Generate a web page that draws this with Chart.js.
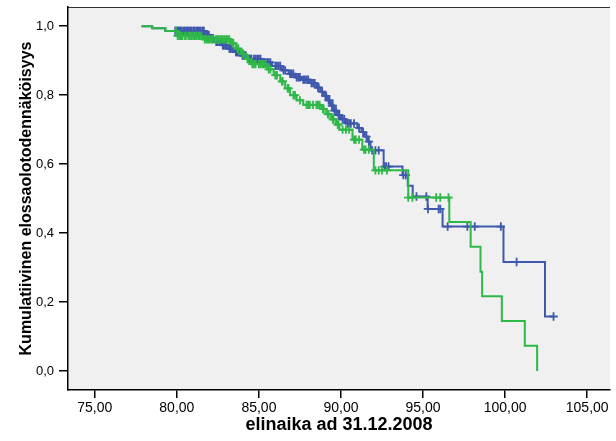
<!DOCTYPE html>
<html>
<head>
<meta charset="utf-8">
<script src="https://cdn.jsdelivr.net/npm/chart.js@4/dist/chart.umd.min.js"></script>
<style>
  html, body { margin: 0; padding: 0; background: #fff; }
  #wrap { width: 616px; height: 441px; }
</style>
</head>
<body>
<div id="wrap"><canvas id="kmChart" width="616" height="441"></canvas></div>
<script>
// survival steps (time where S drops, S after drop); last entry = end of follow-up
const blueT = [77.85, 78.5, 79.3, 81.7, 82.0, 82.3, 82.7, 83.1, 83.5, 83.9, 84.3, 85.2, 85.8, 86.4, 86.8, 87.2, 87.6,
    88.1, 88.5, 88.75, 88.95, 89.15, 89.35, 89.55, 89.75, 90.0, 90.3, 91.0, 91.25, 91.45, 91.65, 91.8, 92.6,
    93.75, 94.07, 94.37, 95.28, 96.19, 99.9, 102.43, 102.95];
const blueS = [1.0, 0.994, 0.986, 0.975, 0.965, 0.955, 0.945, 0.935, 0.925, 0.915, 0.905, 0.895, 0.885, 0.872, 0.862, 0.852, 0.845,
    0.835, 0.822, 0.81, 0.798, 0.785, 0.77, 0.755, 0.742, 0.73, 0.718, 0.705, 0.693, 0.68, 0.665, 0.64, 0.593,
    0.568, 0.537, 0.506, 0.47, 0.419, 0.316, 0.158, 0.158];

const greenT = [77.85, 78.5, 79.3, 80.0, 81.6, 83.3, 83.6, 83.9, 84.2, 84.5, 85.5, 85.9, 86.3, 86.6, 86.9, 87.3, 87.7,
    88.8, 89.1, 89.4, 89.7, 89.9, 90.7, 91.3, 92.0, 94.1, 96.6, 97.9, 98.5, 98.6, 99.8, 101.2, 101.95];
const greenS = [1.0, 0.994, 0.986, 0.972, 0.962, 0.95, 0.935, 0.92, 0.905, 0.89, 0.875, 0.858, 0.84, 0.82, 0.80, 0.785, 0.772,
    0.76, 0.745, 0.73, 0.715, 0.70, 0.671, 0.642, 0.582, 0.503, 0.432, 0.36, 0.288, 0.217, 0.145, 0.073, 0.0];

// censored cases (times)
const blueCensor = [79.9, 79.95, 80.0, 80.05, 80.1, 80.15, 80.2, 80.25, 80.3, 80.4, 80.45, 80.5, 80.6, 80.65, 80.7,
    80.8, 80.85, 80.9, 81.0, 81.05, 81.1, 81.2, 81.25, 81.3, 81.4, 81.45, 81.55, 81.6, 81.65,
    81.8, 81.85, 81.95, 82.1, 82.15, 82.2, 82.4, 82.45, 82.5, 82.6, 82.8, 82.85, 82.9, 83.0, 83.2, 83.25, 83.3, 83.4,
    83.6, 83.65, 83.7, 83.8, 84.0, 84.05, 84.1, 84.2, 84.4, 84.5, 84.55, 84.7, 84.8, 84.9, 85.0, 85.1,
    85.3, 85.4, 85.5, 85.6, 85.7, 86.0, 86.1, 86.2, 86.3, 86.5, 86.6, 86.9, 87.0, 87.1, 87.3, 87.4, 87.5,
    87.7, 87.8, 87.9, 88.0, 88.2, 88.3, 88.4, 88.6, 88.65,
    88.85, 89.05, 89.1, 89.25, 89.3, 89.45, 89.5, 89.6, 89.7, 89.85, 89.9, 90.1, 90.2, 90.4, 90.5, 90.6, 90.8, 91.1,
    91.35, 91.55, 91.7,
    91.9, 92.1, 92.3, 92.65, 92.75, 92.9, 93.8, 93.95, 94.6, 95.2, 95.3, 95.95, 96.05, 96.5, 97.7, 98.15,
    99.74, 100.7, 102.95];
const greenCensor = [79.95, 80.05, 80.15, 80.2, 80.3, 80.35, 80.5, 80.55, 80.7, 80.8, 80.9, 81.0, 81.1, 81.2, 81.3, 81.4, 81.5,
    81.7, 81.8, 81.9, 82.0, 82.1, 82.2, 82.35, 82.45, 82.5, 82.6, 82.7, 82.8, 82.9, 83.0, 83.1, 83.2,
    83.4, 83.45, 83.7, 83.75, 84.0, 84.05, 84.3, 84.35, 84.6, 84.7, 84.8, 85.0, 85.1, 85.2, 85.3, 85.4,
    85.6, 85.7, 86.0, 86.1, 86.4, 86.45, 86.75, 86.8, 87.1, 87.2, 87.5, 87.9, 88.0, 88.1, 88.3, 88.5, 88.6, 88.7,
    88.9, 88.95, 89.2, 89.25, 89.5, 89.55, 89.8, 89.85, 90.1, 90.3, 90.5, 90.8, 90.9, 91.1, 91.4, 91.5, 91.7,
    92.1, 92.3, 92.5, 92.8, 94.1, 94.35, 95.8, 96.05, 96.55];

const xTicks = [75, 80, 85, 90, 95, 100, 105];
const yTicks = [0, 0.2, 0.4, 0.6, 0.8, 1.0];

const BLUE = '#3E58AC';
const GREEN = '#2EB848';

function stepAt(ts, ss, t) {
    let s = ss[0];
    for (let i = 0; i < ts.length; i++) {
        if (ts[i] <= t) s = ss[i];
    }
    return s;
}

const toXY = (ts, ss) => ts.map((t, i) => ({ x: t, y: ss[i] }));
const censorXY = (cs, ts, ss) => cs.map(t => ({ x: t, y: stepAt(ts, ss, t) }));

const plotBg = {
    id: 'plotBg',
    beforeDraw(chart) {
        const { ctx, chartArea: a } = chart;
        ctx.save();
        ctx.fillStyle = '#F0F0F0';
        ctx.fillRect(a.left, a.top, a.right - a.left, a.bottom - a.top);
        ctx.strokeStyle = '#333';
        ctx.lineWidth = 1;
        ctx.beginPath();
        ctx.moveTo(a.left, a.top + 0.5);
        ctx.lineTo(a.right, a.top + 0.5);
        ctx.stroke();
        ctx.restore();
    }
};

const lineDs = (label, ts, ss, color, order) => ({
    label,
    data: toXY(ts, ss),
    showLine: true,
    stepped: true,
    borderColor: color,
    borderWidth: 2,
    pointRadius: 0,
    fill: false,
    order
});

const censorDs = (label, cs, ts, ss, color, order) => ({
    label,
    data: censorXY(cs, ts, ss),
    showLine: false,
    pointStyle: 'cross',
    pointRadius: 4.2,
    borderColor: color,
    borderWidth: 1.8,
    order
});

new Chart(document.getElementById('kmChart').getContext('2d'), {
    type: 'scatter',
    data: {
        datasets: [
            lineDs('green', greenT, greenS, GREEN, 1),
            censorDs('green-censored', greenCensor, greenT, greenS, GREEN, 2),
            lineDs('blue', blueT, blueS, BLUE, 3),
            censorDs('blue-censored', blueCensor, blueT, blueS, BLUE, 4)
        ]
    },
    options: {
        responsive: false,
        animation: false,
        devicePixelRatio: 1,
        layout: { padding: { top: 7, right: 0, bottom: 0, left: 0 } },
        plugins: { legend: { display: false }, tooltip: { enabled: false } },
        scales: {
            x: {
                type: 'linear',
                min: 73.37,
                max: 106.39,
                afterBuildTicks: s => { s.ticks = xTicks.map(v => ({ value: v })); },
                afterFit: s => { s.height = 51; s.paddingLeft = 0; s.paddingRight = 0; },
                grid: { drawOnChartArea: false, drawTicks: true, tickLength: 8, color: '#000', lineWidth: 1.5 },
                border: { display: true, color: '#000', width: 1.5 },
                ticks: {
                    color: '#000',
                    padding: 2,
                    maxRotation: 0,
                    font: { family: 'Liberation Sans, Arial', size: 14 },
                    callback: v => v.toFixed(2).replace('.', ',')
                },
                title: {
                    display: true,
                    text: 'elinaika ad 31.12.2008',
                    color: '#000',
                    font: { family: 'Liberation Sans, Arial', size: 18, weight: 'bold' },
                    padding: { top: 0, bottom: 5 }
                }
            },
            y: {
                type: 'linear',
                min: -0.0552,
                max: 1.0558,
                afterBuildTicks: s => { s.ticks = yTicks.map(v => ({ value: v })); },
                afterFit: s => { s.width = 68; s.paddingTop = 0; s.paddingBottom = 0; },
                grid: { drawOnChartArea: false, drawTicks: true, tickLength: 9, color: '#000', lineWidth: 1.5 },
                border: { display: true, color: '#000', width: 1.5 },
                ticks: {
                    color: '#000',
                    padding: 5,
                    font: { family: 'Liberation Sans, Arial', size: 13 },
                    callback: v => v.toFixed(1).replace('.', ',')
                },
                title: {
                    display: true,
                    text: 'Kumulatiivinen elossaolotodennäköisyys',
                    color: '#000',
                    font: { family: 'Liberation Sans, Arial', size: 16, weight: 'bold' },
                    padding: { top: 17, bottom: 0 }
                }
            }
        }
    },
    plugins: [plotBg]
});
</script>
</body>
</html>
